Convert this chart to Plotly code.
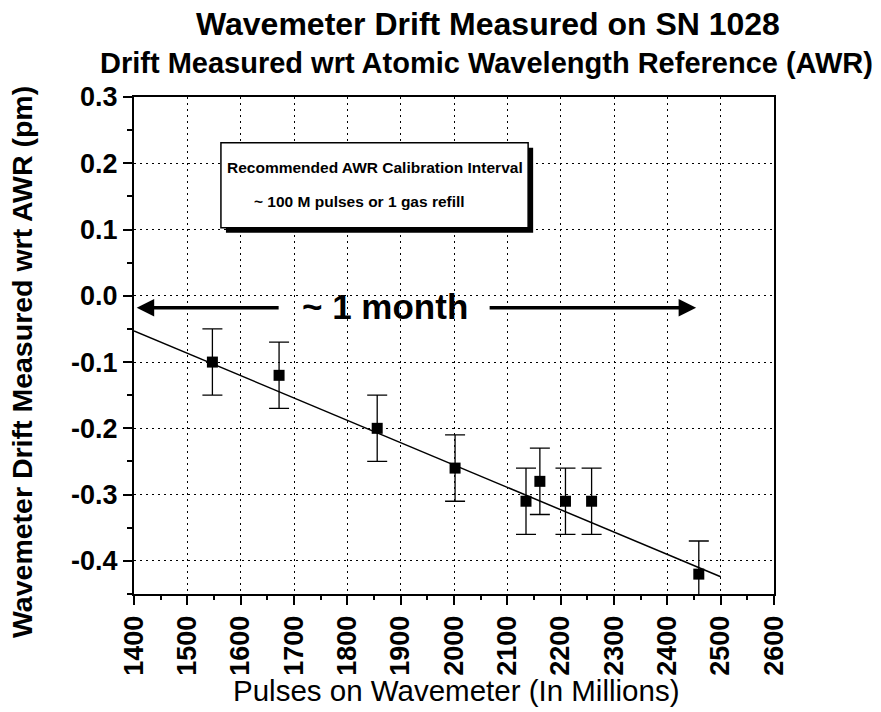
import plotly.graph_objects as go

# ---- data ----
pulses = [1547, 1672, 1856, 2002, 2135, 2161, 2209, 2258, 2459]
drift = [-0.10, -0.12, -0.20, -0.26, -0.31, -0.28, -0.31, -0.31, -0.42]
drift_err = [0.05, 0.05, 0.05, 0.05, 0.05, 0.05, 0.05, 0.05, 0.05]
fit_x = [1400, 2500]
fit_y = [-0.053, -0.424]

x_ticks = [1400, 1500, 1600, 1700, 1800, 1900, 2000, 2100, 2200, 2300, 2400, 2500, 2600]
x_tick_labels = [str(v) for v in x_ticks]
y_ticks = [-0.4, -0.3, -0.2, -0.1, 0.0, 0.1, 0.2, 0.3]
y_tick_labels = ["-0.4", "-0.3", "-0.2", "-0.1", "0.0", "0.1", "0.2", "0.3"]

FONT = "Liberation Sans, Arial, sans-serif"

L, R, T, B = 134, 107, 97, 118
W, H = 881, 712
pw, ph = W - L - R, H - T - B


def px_to_paper(px, py):
    return (px - L) / pw, (H - B - py) / ph


fig = go.Figure()
fig.add_trace(go.Scatter(x=fit_x, y=fit_y, mode="lines",
                         line=dict(color="black", width=1.5), hoverinfo="skip"))
fig.add_trace(go.Scatter(
    x=pulses, y=drift, mode="markers",
    marker=dict(symbol="square", size=11, color="black"),
    error_y=dict(type="data", array=drift_err, visible=True,
                 color="black", thickness=1.3, width=10),
))

# recommendation box with drop shadow
sx, sy = 9.4, 0.0075
fig.add_shape(type="rect", x0=1563 + sx, x1=2139 + sx, y0=0.1026 - sy, y1=0.2308 - sy,
              xref="x", yref="y", fillcolor="black", line=dict(width=0), layer="above")
fig.add_shape(type="rect", x0=1563, x1=2139, y0=0.1026, y1=0.2308,
              xref="x", yref="y", fillcolor="white", line=dict(color="black", width=1.5),
              layer="above")

fig.add_annotation(x=1851, y=0.194, xref="x", yref="y", showarrow=False,
                   xanchor="center", yanchor="middle",
                   text="Recommended AWR Calibration Interval",
                   font=dict(family=FONT, size=15.5, color="black", weight="bold"))
fig.add_annotation(x=1822, y=0.143, xref="x", yref="y", showarrow=False,
                   xanchor="center", yanchor="middle",
                   text="~ 100 M pulses or 1 gas refill",
                   font=dict(family=FONT, size=15.5, color="black", weight="bold"))
# ~1 month arrows
fig.add_annotation(x=1405, y=-0.018, ax=1674, ay=-0.018, xref="x", yref="y", axref="x", ayref="y",
                   showarrow=True, arrowhead=2, arrowsize=1, arrowwidth=3.5, arrowcolor="black", text="")
fig.add_annotation(x=2454, y=-0.018, ax=2064, ay=-0.018, xref="x", yref="y", axref="x", ayref="y",
                   showarrow=True, arrowhead=2, arrowsize=1, arrowwidth=3.5, arrowcolor="black", text="")
fig.add_annotation(x=1870, y=-0.016, xref="x", yref="y", showarrow=False, text="~ 1 month",
                   xanchor="center", yanchor="middle",
                   font=dict(family=FONT, size=35, color="black", weight="bold"))

# titles and axis titles (pixel positions converted to paper coords)
tx, ty = px_to_paper(488, 24)
fig.add_annotation(x=tx, y=ty, xref="paper", yref="paper", showarrow=False,
                   xanchor="center", yanchor="middle",
                   text="Wavemeter Drift Measured on SN 1028",
                   font=dict(family=FONT, size=32, color="black", weight="bold"))
sx_, sy_ = px_to_paper(486, 63)
fig.add_annotation(x=sx_, y=sy_, xref="paper", yref="paper", showarrow=False,
                   xanchor="center", yanchor="middle",
                   text="Drift Measured wrt Atomic Wavelength Reference (AWR)",
                   font=dict(family=FONT, size=29, color="black", weight="bold"))
yx, yy = px_to_paper(22, 362)
fig.add_annotation(x=yx, y=yy, xref="paper", yref="paper", showarrow=False,
                   xanchor="center", yanchor="middle", textangle=-90,
                   text="Wavemeter Drift Measured wrt AWR (pm)",
                   font=dict(family=FONT, size=28.5, color="black", weight="bold"))
xx, xy = px_to_paper(456, 690)
fig.add_annotation(x=xx, y=xy, xref="paper", yref="paper", showarrow=False,
                   xanchor="center", yanchor="middle",
                   text="Pulses on Wavemeter (In Millions)",
                   font=dict(family=FONT, size=29.5, color="black"))

fig.update_xaxes(range=[1400, 2600], tickmode="array", tickvals=x_ticks, ticktext=x_tick_labels,
                 tickangle=-90, tickfont=dict(family=FONT, size=27, color="black", weight="bold"),
                 showline=True, linewidth=2, linecolor="black", mirror=True,
                 ticks="outside", ticklen=9, tickwidth=2, tickcolor="black",
                 showgrid=True, gridcolor="black", gridwidth=1, griddash="2px,4px",
                 minor=dict(tickmode="linear", tick0=1400, dtick=50, ticks="outside",
                            ticklen=4, tickwidth=1.5, tickcolor="black", showgrid=False),
                 zeroline=False, automargin=False)
fig.update_yaxes(range=[-0.45, 0.3], tickmode="array", tickvals=y_ticks, ticktext=y_tick_labels,
                 tickfont=dict(family=FONT, size=27, color="black", weight="bold"),
                 showline=True, linewidth=2, linecolor="black", mirror=True,
                 ticks="outside", ticklen=9, tickwidth=2, tickcolor="black",
                 showgrid=True, gridcolor="black", gridwidth=1, griddash="2px,4px",
                 minor=dict(tickmode="linear", tick0=-0.45, dtick=0.05, ticks="outside",
                            ticklen=5, tickwidth=1.5, tickcolor="black", showgrid=False),
                 zeroline=False, automargin=False)

fig.update_layout(width=W, height=H, margin=dict(l=L, r=R, t=T, b=B),
                  plot_bgcolor="white", paper_bgcolor="white", showlegend=False)
fig.write_html("out.html", config={"displayModeBar": False},
               post_script="document.body.style.margin='0';")
